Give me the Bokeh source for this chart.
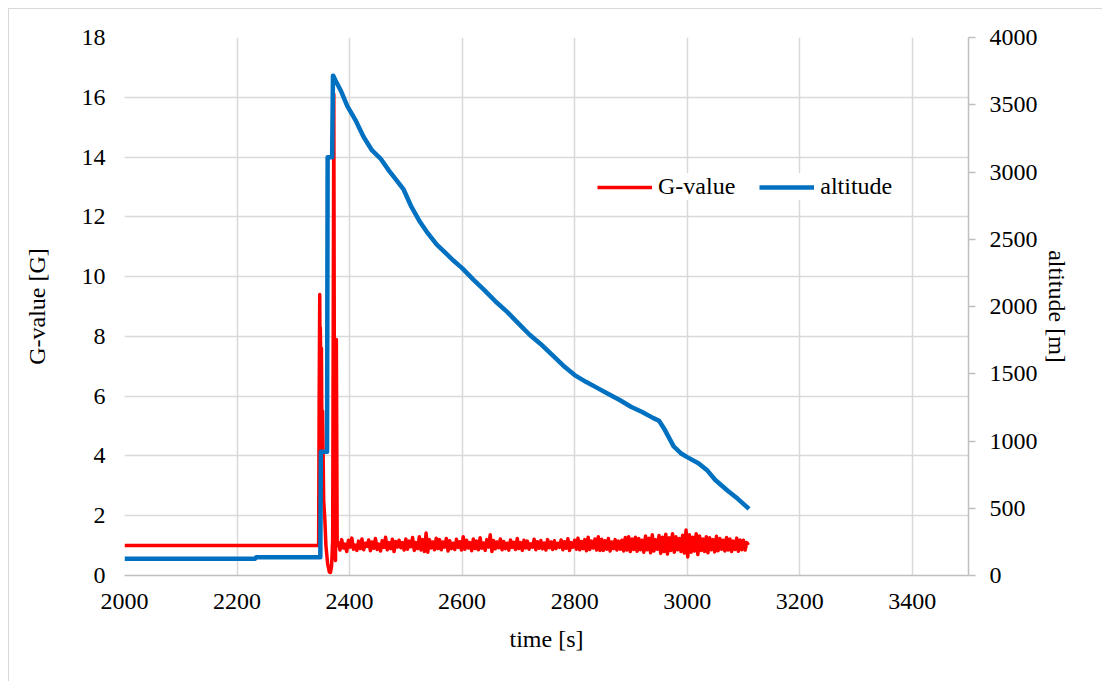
from bokeh.plotting import figure
from bokeh.models import Range1d, LinearAxis, FixedTicker, Legend, LegendItem
from bokeh.embed import file_html
from bokeh.resources import INLINE

FONT = "Liberation Serif"
FS = "24px"

# ---------------- data ----------------
x_ticks = [2000, 2200, 2400, 2600, 2800, 3000, 3200, 3400]
g_ticks = [0, 2, 4, 6, 8, 10, 12, 14, 16, 18]
alt_ticks = [0, 500, 1000, 1500, 2000, 2500, 3000, 3500, 4000]

# G-value: flat part + launch/landing spike region
g_pre_t = [2000, 2345]
g_pre_v = [1.0, 1.0]
g_spike_t = [2346, 2347, 2347.5, 2348, 2349, 2350, 2351, 2352, 2354, 2356, 2358,
             2361, 2364, 2366, 2368, 2370, 2372, 2373.5, 2375, 2376.5, 2378]
g_spike_v = [6.0, 9.4, 7.2, 8.3, 6.9, 7.6, 4.0, 5.5, 2.5, 1.9, 1.0,
             0.4, 0.12, 0.1, 0.3, 1.2, 16.1, 1.0, 0.5, 7.9, 1.0]
# G-value noise after the spike, sampled every 3 s from 2380 s
g_noise_start = 2380
g_noise_step = 3
g_noise_v = [
    1.10, 0.85, 1.20, 0.92, 1.05, 0.80, 1.18, 0.95, 1.25, 0.88, 1.02, 0.84,
    1.15, 0.90, 1.22, 0.86, 1.08, 0.97, 1.19, 0.83, 1.12, 0.91, 1.24, 0.87,
    1.05, 0.82, 1.16, 0.94, 1.28, 0.86, 1.10, 0.90, 1.21, 0.80, 1.14, 0.95,
    1.18, 0.93, 1.10, 0.85, 1.22, 0.88, 1.15, 0.96, 1.27, 0.84, 1.10, 0.90,
    1.30, 0.85, 1.20, 0.80, 1.42, 0.78, 1.20, 0.92, 1.12, 0.86, 1.25, 0.90,
    1.20, 0.86, 1.12, 0.95, 1.24, 0.82, 1.16, 0.90, 1.08, 0.87, 1.21, 0.94,
    1.13, 0.85, 1.30, 0.88, 1.18, 0.92, 1.10, 0.83, 1.22, 0.90, 1.15, 0.86,
    1.26, 0.91, 1.09, 0.84, 1.20, 0.95, 1.36, 0.80, 1.17, 0.89, 1.12, 0.93,
    1.22, 0.86, 1.14, 0.90, 1.08, 0.85, 1.19, 0.94, 1.11, 0.87, 1.24, 0.90,
    1.10, 0.84, 1.18, 0.92, 1.15, 0.88, 1.06, 0.95, 1.21, 0.86, 1.13, 0.91,
    1.17, 0.89, 1.09, 0.85, 1.20, 0.93, 1.12, 0.87, 1.16, 0.90, 1.08, 0.94,
    1.19, 0.86, 1.13, 0.91, 1.23, 0.84, 1.10, 0.95, 1.18, 0.88, 1.25, 0.86,
    1.14, 0.90, 1.20, 0.83, 1.28, 0.87, 1.15, 0.92, 1.22, 0.85, 1.30, 0.84,
    1.21, 0.84, 1.16, 0.88, 1.24, 0.82, 1.12, 0.90, 1.20, 0.85, 1.15, 0.88,
    1.18, 0.82, 1.27, 0.85, 1.30, 0.80, 1.22, 0.87, 1.28, 0.81, 1.24, 0.86,
    1.18, 0.78, 1.32, 0.86, 1.25, 0.76, 1.36, 0.82, 1.20, 0.88, 1.34, 0.74,
    1.28, 0.80, 1.38, 0.72, 1.26, 0.84, 1.40, 0.78, 1.30, 0.86, 1.24, 0.80,
    1.35, 0.75, 1.52, 0.62, 1.36, 0.78, 1.28, 0.82, 1.40, 0.70, 1.32, 0.84,
    1.22, 0.80, 1.30, 0.76, 1.26, 0.86, 1.20, 0.79, 1.31, 0.83, 1.24, 0.88,
    1.18, 0.82, 1.27, 0.85, 1.22, 0.80, 1.15, 0.87, 1.25, 0.81, 1.19, 0.86,
    1.18, 0.85, 1.10, 1.02,
]

# altitude [m]
alt_t = [2000, 2232, 2234, 2348, 2349, 2360, 2361, 2369, 2370.5, 2371,
         2375, 2385, 2396, 2410, 2425, 2440, 2455, 2470, 2485, 2496,
         2510, 2525, 2539, 2555, 2570, 2585, 2600, 2620, 2640, 2660,
         2680, 2700, 2720, 2740, 2760, 2780, 2800, 2820, 2840, 2860,
         2880, 2900, 2920, 2940, 2950, 2960, 2976, 2990, 3000, 3020,
         3036, 3050, 3072, 3090, 3110]
alt_v = [124, 124, 136, 136, 920, 920, 3110, 3110, 3715, 3715,
         3680, 3600, 3490, 3390, 3260, 3160, 3100, 3010, 2930, 2870,
         2740, 2630, 2545, 2460, 2400, 2340, 2285, 2200, 2120, 2035,
         1960, 1875, 1790, 1720, 1640, 1560, 1490, 1440, 1395, 1350,
         1305, 1255, 1215, 1170, 1150, 1085, 960, 905, 880, 835,
         780, 710, 630, 570, 495]

g_noise_t = [g_noise_start + g_noise_step * i for i in range(len(g_noise_v))]
g_t = g_pre_t + g_spike_t + g_noise_t
g_v = g_pre_v + g_spike_v + g_noise_v

# ---------------- figure ----------------
p = figure(width=1094, height=673, output_backend="svg", toolbar_location=None,
           x_range=Range1d(2000, 3500), y_range=Range1d(0, 18),
           min_border_left=115, min_border_top=28,
           min_border_right=135, min_border_bottom=107)
p.styles = {"margin-left": "8px", "margin-top": "8px",
            "border-left": "1px solid #d9d9d9", "border-top": "1px solid #d9d9d9"}
p.outline_line_color = None
p.extra_y_ranges = {"alt": Range1d(0, 4000)}

GRID = "#d9d9d9"
AX = "#bfbfbf"

p.xgrid.ticker = FixedTicker(ticks=x_ticks)
p.ygrid.ticker = FixedTicker(ticks=g_ticks)
p.xgrid.grid_line_color = GRID
p.ygrid.grid_line_color = GRID
p.xgrid.grid_line_width = 1.5
p.ygrid.grid_line_width = 1.5

xa = p.xaxis[0]
xa.ticker = FixedTicker(ticks=x_ticks)
xa.axis_line_color = AX
xa.axis_line_width = 1.5
xa.major_tick_out = 0
xa.major_tick_in = 0
xa.minor_tick_out = 0
xa.minor_tick_in = 0
xa.major_label_standoff = 18
xa.axis_label = "time [s]"
xa.axis_label_standoff = 14

ya = p.yaxis[0]
ya.ticker = FixedTicker(ticks=g_ticks)
ya.axis_line_color = None
ya.major_tick_out = 0
ya.major_tick_in = 0
ya.minor_tick_out = 0
ya.minor_tick_in = 0
ya.major_label_standoff = 19
ya.axis_label = "G-value [G]"
ya.axis_label_standoff = 29

ra = LinearAxis(y_range_name="alt", ticker=FixedTicker(ticks=alt_ticks))
ra.axis_line_color = AX
ra.axis_line_width = 1.5
ra.major_tick_line_color = AX
ra.major_tick_line_width = 1.5
ra.major_tick_out = 7
ra.major_tick_in = 0
ra.minor_tick_out = 0
ra.minor_tick_in = 0
ra.major_label_standoff = 14
ra.axis_label = "altitude [m]"
ra.axis_label_standoff = 3
p.add_layout(ra, "right")

for ax in (xa, ya, ra):
    ax.major_label_text_font = FONT
    ax.major_label_text_font_size = FS
    ax.major_label_text_color = "black"
    ax.axis_label_text_font = FONT
    ax.axis_label_text_font_size = FS
    ax.axis_label_text_font_style = "normal"
    ax.axis_label_text_color = "black"

r_g = p.line(g_t, g_v, color="#ff0000", line_width=3.5, line_join="round")
r_a = p.line(alt_t, alt_v, color="#0070c0", line_width=4.5, line_join="round",
             y_range_name="alt")

legend = Legend(items=[LegendItem(label="G-value", renderers=[r_g]),
                       LegendItem(label="altitude", renderers=[r_a])],
                location=(473, 375), orientation="horizontal",
                label_text_font=FONT, label_text_font_size=FS,
                label_text_color="black",
                glyph_width=55, glyph_height=24, label_standoff=6,
                spacing=24, padding=10, margin=0,
                border_line_color=None, background_fill_color="white",
                background_fill_alpha=1)
p.add_layout(legend)

open("out.html", "w").write(file_html(p, INLINE))
